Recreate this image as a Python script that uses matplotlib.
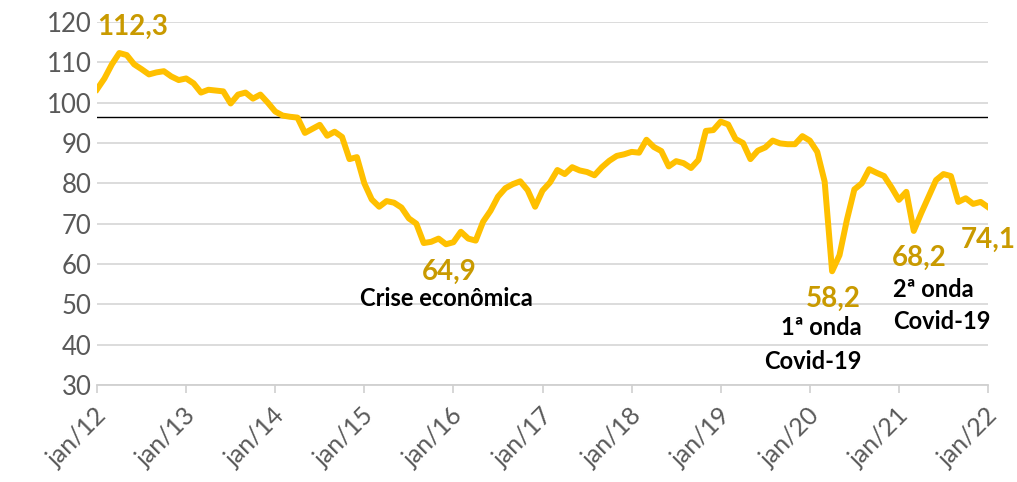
import matplotlib
matplotlib.use("Agg")
import matplotlib.pyplot as plt
import matplotlib.transforms as mtransforms
import numpy as np

plt.rcParams['font.family'] = ['Lato', 'DejaVu Sans']

## monthly index, jan/12 .. jan/22
valores = [
    103.3, 106.0, 109.5, 112.3, 111.8, 109.5, 108.3, 107.0, 107.5, 107.8, 106.5, 105.6,  # 2012
    106.0, 104.8, 102.5, 103.2, 103.0, 102.8, 99.8, 102.0, 102.5, 101.0, 102.0, 100.0,   # 2013
    97.8, 96.8, 96.5, 96.3, 92.5, 93.5, 94.5, 91.8, 92.8, 91.5, 86.0, 86.5,              # 2014
    80.0, 76.0, 74.2, 75.6, 75.2, 74.0, 71.3, 70.0, 65.2, 65.5, 66.3, 64.9,              # 2015
    65.4, 68.0, 66.3, 65.8, 70.5, 73.2, 76.7, 78.8, 79.8, 80.5, 78.3, 74.2,              # 2016
    78.2, 80.2, 83.3, 82.3, 84.0, 83.2, 82.8, 82.0, 84.0, 85.6, 86.8, 87.2,              # 2017
    87.8, 87.6, 90.8, 89.0, 88.0, 84.2, 85.5, 85.0, 83.8, 85.8, 93.0, 93.2,              # 2018
    95.3, 94.6, 91.0, 90.0, 86.0, 88.1, 88.9, 90.6, 89.9, 89.7, 89.7, 91.7,              # 2019
    90.6, 87.8, 80.4, 58.2, 62.2, 71.0, 78.5, 80.0, 83.5, 82.6, 81.8, 79.0,              # 2020
    75.9, 77.9, 68.2, 72.6, 76.7, 80.8, 82.3, 81.8, 75.4, 76.3, 74.9, 75.4,              # 2021
    74.1,                                                                                # 2022
]
media = 96.4  # horizontal reference line
rotulos_x = ['jan/12', 'jan/13', 'jan/14', 'jan/15', 'jan/16', 'jan/17',
             'jan/18', 'jan/19', 'jan/20', 'jan/21', 'jan/22']
yticks = [30, 40, 50, 60, 70, 80, 90, 100, 110, 120]

## highlighted points: month index, label
destaques = [
    (3, '112,3'),
    (47, '64,9'),
    (99, '58,2'),
    (110, '68,2'),
    (120, '74,1'),
]

amarelo = '#FFC000'
ouro = '#C99A00'
cinza = '#595959'

fig = plt.figure(figsize=(10.17, 4.82), dpi=100)
ax = fig.add_axes([0.0954, 0.2012, 0.8761, 0.7532])

x = np.arange(len(valores))
ax.plot(x, valores, color=amarelo, lw=4.3, solid_joinstyle='round', zorder=3)
ax.axhline(media, color='black', lw=1.0, zorder=2)

ax.set_xlim(0, len(valores) - 1)
ax.set_ylim(30, 120)
ax.set_yticks(yticks)
ax.set_xticks(np.arange(0, len(valores), 12))
ax.set_xticklabels(rotulos_x, rotation=45, ha='right', va='center',
                   rotation_mode='anchor')
ax.grid(axis='y', color='#D9D9D9', lw=1.3, zorder=1)
for s in ['top', 'right', 'left']:
    ax.spines[s].set_visible(False)
ax.spines['bottom'].set_color('#D0D0D0')
ax.spines['bottom'].set_linewidth(1.3)
ax.tick_params(axis='y', length=0, pad=4, labelsize=18.5, labelcolor=cinza)
ax.tick_params(axis='x', length=6, color='#D0D0D0', width=1.2, pad=13,
               labelsize=18, labelcolor=cinza)
desloc = mtransforms.ScaledTranslation(6 / 100, 0, fig.dpi_scale_trans)
for lab in ax.get_xticklabels():
    lab.set_transform(lab.get_transform() + desloc)

offs = {3: (13, 26), 47: (3, -28), 99: (1, -28), 110: (5, -27), 120: (0, -33)}
for i, txt in destaques:
    ax.annotate(txt, xy=(i, valores[i]), xytext=offs[i], textcoords='offset pixels',
                ha='center', va='center', fontsize=20, fontweight='bold',
                color=ouro, annotation_clip=False)

## black captions
ax.annotate('Crise econômica', xy=(47, valores[47]), xytext=(0, -54),
            textcoords='offset pixels', ha='center', va='center',
            fontsize=17, fontweight='bold', color='black')
ax.annotate('1ª onda', xy=(99, valores[99]), xytext=(30, -56),
            textcoords='offset pixels', ha='right', va='center',
            fontsize=17, fontweight='bold', color='black')
ax.annotate('Covid-19', xy=(99, valores[99]), xytext=(30, -90),
            textcoords='offset pixels', ha='right', va='center',
            fontsize=17, fontweight='bold', color='black', annotation_clip=False)
ax.annotate('2ª onda', xy=(110, valores[110]), xytext=(-21, -59),
            textcoords='offset pixels', ha='left', va='center',
            fontsize=17, fontweight='bold', color='black')
ax.annotate('Covid-19', xy=(110, valores[110]), xytext=(-21, -91),
            textcoords='offset pixels', ha='left', va='center',
            fontsize=17, fontweight='bold', color='black')

fig.savefig('out.png', dpi=100)
